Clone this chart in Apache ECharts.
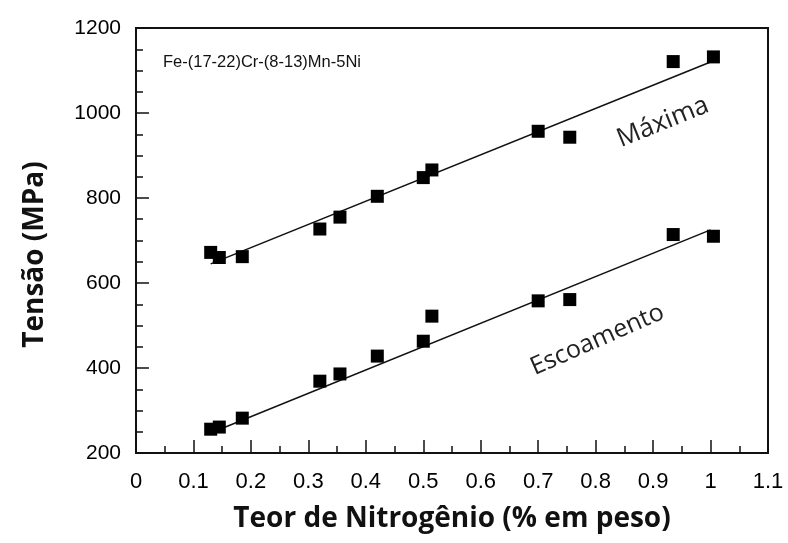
<!DOCTYPE html>
<html>
<head>
<meta charset="utf-8">
<script src="https://cdn.jsdelivr.net/npm/echarts@6/dist/echarts.min.js"></script>
<style>
  html, body { margin: 0; padding: 0; background: #ffffff; }
  #chart { width: 788px; height: 543px; }
</style>
</head>
<body>
<div id="chart"></div>
<script>
// Nitrogen content (% weight) of each alloy tested
const nitrogen = [0.13, 0.145, 0.185, 0.32, 0.355, 0.42, 0.50, 0.515, 0.70, 0.755, 0.935, 1.005];
// Ultimate tensile strength, MPa
const maximaValues = [672, 660, 662, 727, 755, 804, 848, 866, 957, 943, 1121, 1132];
// Yield strength, MPa
const escoamentoValues = [256, 261, 282, 369, 386, 428, 463, 522, 558, 561, 714, 710];
// Linear fits (end points)
const fitX = [0.13, 1.0];
const maximaFit = [645, 1120];
const escoamentoFit = [247, 725];
// Axis tick labels
const xTickLabels = ['0', '0.1', '0.2', '0.3', '0.4', '0.5', '0.6', '0.7', '0.8', '0.9', '1', '1.1'];
const yTickLabels = ['200', '400', '600', '800', '1000', '1200'];

const pairs = (xs, ys) => xs.map((x, i) => [x, ys[i]]);

const chart = echarts.init(document.getElementById('chart'), null, { renderer: 'canvas' });

const ink = '#111111';
const tickFont = 'Liberation Sans, Arial, Helvetica, sans-serif';
const titleFont = 'Open Sans, Lato, sans-serif';

chart.setOption({
  animation: false,
  backgroundColor: '#ffffff',
  grid: {
    left: 136, right: 20, top: 28, bottom: 90,
    show: true, borderColor: ink, borderWidth: 2, backgroundColor: 'transparent'
  },
  xAxis: {
    type: 'value', min: 0, max: 1.1, interval: 0.1,
    name: 'Teor de Nitrogênio (% em peso)',
    nameLocation: 'middle', nameGap: 52,
    nameTextStyle: { fontFamily: titleFont, fontWeight: 'bold', fontSize: 28, color: ink },
    axisLine: { show: true, lineStyle: { color: ink, width: 2 } },
    axisTick: { show: true, inside: true, length: 13, lineStyle: { color: ink, width: 1.5 } },
    minorTick: { show: true, splitNumber: 2, length: 7, lineStyle: { color: ink, width: 1.5 } },
    splitLine: { show: false },
    axisLabel: {
      margin: 18, fontFamily: tickFont, fontSize: 22, color: '#000000',
      formatter: v => xTickLabels[Math.round(v * 10)] || ''
    }
  },
  yAxis: {
    type: 'value', min: 200, max: 1200, interval: 200,
    name: 'Tensão (MPa)',
    nameLocation: 'middle', nameGap: 87,
    nameTextStyle: {
      fontFamily: titleFont, fontWeight: 'bold', fontSize: 28, color: ink,
      padding: [0, 28, 0, 0]
    },
    axisLine: { show: true, lineStyle: { color: ink, width: 2 } },
    axisTick: { show: true, inside: true, length: 13, lineStyle: { color: ink, width: 1.5 } },
    minorTick: { show: true, splitNumber: 4, length: 7, lineStyle: { color: ink, width: 1.5 } },
    splitLine: { show: false },
    axisLabel: {
      margin: 15, fontFamily: tickFont, fontSize: 21, color: '#000000',
      formatter: v => yTickLabels[Math.round((v - 200) / 200)] || ''
    }
  },
  series: [
    {
      name: 'Máxima', type: 'scatter', data: pairs(nitrogen, maximaValues),
      symbol: 'rect', symbolSize: 13, itemStyle: { color: '#000000', opacity: 1 }, z: 3
    },
    {
      name: 'Escoamento', type: 'scatter', data: pairs(nitrogen, escoamentoValues),
      symbol: 'rect', symbolSize: 13, itemStyle: { color: '#000000', opacity: 1 }, z: 3
    },
    {
      name: 'Máxima (ajuste)', type: 'line', data: pairs(fitX, maximaFit),
      showSymbol: false, lineStyle: { color: ink, width: 1.6 }, z: 2
    },
    {
      name: 'Escoamento (ajuste)', type: 'line', data: pairs(fitX, escoamentoFit),
      showSymbol: false, lineStyle: { color: ink, width: 1.6 }, z: 2
    }
  ]
});

// Text annotations placed in data coordinates
const at = (x, y) => chart.convertToPixel({ gridIndex: 0 }, [x, y]);
const alloyPos = at(0.047, 1118);
const maxPos = at(0.917, 978);
const escPos = at(0.803, 466);
const tilt = 22 * Math.PI / 180;

chart.setOption({
  graphic: [
    {
      type: 'text', x: alloyPos[0], y: alloyPos[1],
      style: {
        text: 'Fe-(17-22)Cr-(8-13)Mn-5Ni', fill: ink,
        font: '16.5px ' + tickFont, textAlign: 'left', textVerticalAlign: 'middle'
      }
    },
    {
      type: 'text', x: maxPos[0], y: maxPos[1], rotation: tilt,
      style: {
        text: 'Máxima', fill: '#222222',
        font: '26px ' + titleFont, textAlign: 'center', textVerticalAlign: 'middle'
      }
    },
    {
      type: 'text', x: escPos[0], y: escPos[1], rotation: tilt + 0.03,
      style: {
        text: 'Escoamento', fill: '#222222',
        font: '25px ' + titleFont, textAlign: 'center', textVerticalAlign: 'middle'
      }
    }
  ]
});
</script>
</body>
</html>
